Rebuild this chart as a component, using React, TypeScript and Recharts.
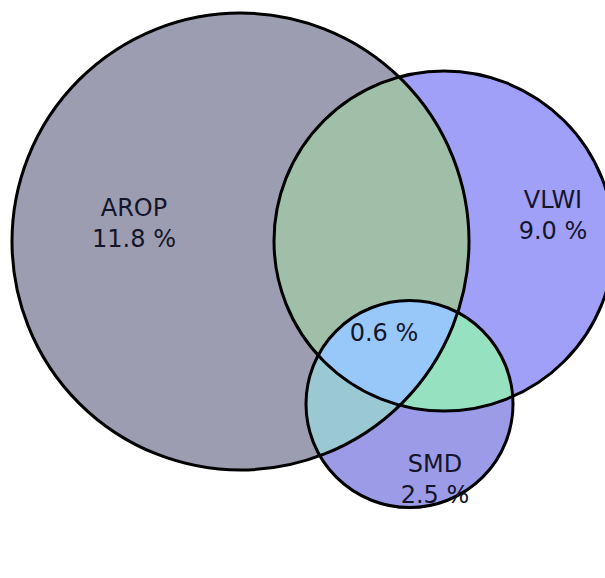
import React from 'react';
import { ScatterChart, Scatter, XAxis, YAxis } from 'recharts';

// ---- Venn data (in chart units, 1 unit = 1 px) ----
const setNames = ['AROP', 'VLWI', 'SMD'];
const setShares = ['11.8 %', '9.0 %', '2.5 %'];
const setCenterX = [240.5, 444, 409.5];
const setCenterY = [241.5, 241, 404];
const setRadius = [228.5, 170, 103.5];
const setColors = ['#9d9db2', '#a0a0f8', '#9b9be8'];

// pair overlaps: [first set, second set]
const pairSets = [[0, 1], [0, 2], [1, 2]];
const pairColors = ['#9fbfa9', '#9ac8d3', '#96e2c0'];

const tripleShare = '0.6 %';
const tripleColor = '#98c8fa';

const labelX = [134, 553, 435];
const labelY = [216, 208, 472];
const tripleLabelX = 384;
const tripleLabelY = 341;

const W = 605;
const H = 578;
const UNIT = W / W; // px per chart unit

const circleData = setNames.map((name, i) => ({
  x: setCenterX[i], y: setCenterY[i], r: setRadius[i], idx: i, color: setColors[i], name,
}));
const pairData = pairSets.map(([a, b], i) => ({
  x: setCenterX[b], y: setCenterY[b], r: setRadius[b], clipA: a, color: pairColors[i],
}));
const tripleData = [{ x: setCenterX[2], y: setCenterY[2], r: setRadius[2], color: tripleColor }];
const labelData = setNames.map((name, i) => ({ x: labelX[i], y: labelY[i], name, share: setShares[i] }));
const tripleLabelData = [{ x: tripleLabelX, y: tripleLabelY, share: tripleShare }];

const FONT = 'DejaVu Sans, sans-serif';

const SetShape = (p: any) => {
  const r = p.payload.r * UNIT;
  return (
    <g>
      <defs>
        <clipPath id={`venn-clip-${p.payload.idx}`}>
          <circle cx={p.cx} cy={p.cy} r={r} />
        </clipPath>
      </defs>
      <circle cx={p.cx} cy={p.cy} r={r} fill={p.payload.color} stroke="none" />
    </g>
  );
};

const PairShape = (p: any) => (
  <circle
    cx={p.cx}
    cy={p.cy}
    r={p.payload.r * UNIT}
    fill={p.payload.color}
    clipPath={`url(#venn-clip-${p.payload.clipA})`}
  />
);

const TripleShape = (p: any) => (
  <g clipPath="url(#venn-clip-0)">
    <circle cx={p.cx} cy={p.cy} r={p.payload.r * UNIT} fill={p.payload.color} clipPath="url(#venn-clip-1)" />
  </g>
);

const OutlineShape = (p: any) => (
  <circle cx={p.cx} cy={p.cy} r={p.payload.r * UNIT} fill="none" stroke="#000" strokeWidth={3} />
);

const LabelShape = (p: any) => (
  <text x={p.cx} y={p.cy} textAnchor="middle" fontFamily={FONT} fontSize={24} fill="#15152a">
    {p.payload.name ? <tspan x={p.cx}>{p.payload.name}</tspan> : null}
    <tspan x={p.cx} dy={p.payload.name ? 31 : 0}>{p.payload.share}</tspan>
  </text>
);

export default function App() {
  return (
    <div style={{ position: 'absolute', left: 0, top: 0, width: W, height: H, background: '#fff' }}>
      <ScatterChart width={W} height={H} margin={{ top: 0, right: 0, bottom: 0, left: 0 }}>
        <XAxis type="number" dataKey="x" domain={[0, W]} hide />
        <YAxis type="number" dataKey="y" domain={[0, H]} reversed hide />
        <Scatter data={circleData} shape={SetShape} isAnimationActive={false} />
        <Scatter data={pairData} shape={PairShape} isAnimationActive={false} />
        <Scatter data={tripleData} shape={TripleShape} isAnimationActive={false} />
        <Scatter data={circleData} shape={OutlineShape} isAnimationActive={false} />
        <Scatter data={labelData} shape={LabelShape} isAnimationActive={false} />
        <Scatter data={tripleLabelData} shape={LabelShape} isAnimationActive={false} />
      </ScatterChart>
    </div>
  );
}
